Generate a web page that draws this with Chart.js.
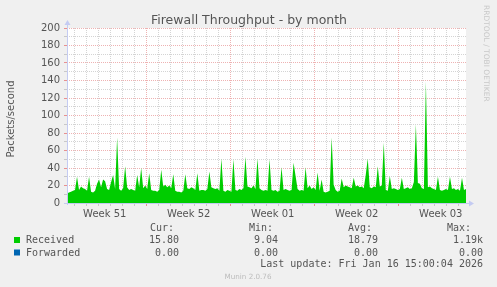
<!DOCTYPE html>
<html><head><meta charset="utf-8">
<script src="https://cdn.jsdelivr.net/npm/chart.js@4.4.1/dist/chart.umd.min.js"></script>
<style>html,body{margin:0;padding:0;background:#f0f0f0;overflow:hidden}canvas{display:block}</style>
</head><body>
<canvas id="c" width="497" height="287"></canvas>
<script>
// ---- data ----
const chartTitle = 'Firewall Throughput - by month';
const yAxisTitle = 'Packets/second';
const watermark = 'RRDTOOL / TOBI OETIKER';
const footer = 'Munin 2.0.76';
const lastUpdate = 'Last update: Fri Jan 16 15:00:04 2026';
const weekLabels = ['Week 51', 'Week 52', 'Week 01', 'Week 02', 'Week 03'];
const yTickLabels = [0, 20, 40, 60, 80, 100, 120, 140, 160, 180, 200];
// time axis in hours since Sun 14 Dec 2025 00:00
const xStartHour = 8.5;
const xEndHour = 806.5;
// Received packets/second, one sample per ~4 h
const received = [
  11,12,13,14,15,30,15,19,17,16, 14,30,13,12,14,22,27,18,27,25,
  16,15,24,32,16,75,16,14,17,42, 18,15,16,15,14,32,18,40,17,20,
  16,34,15,14,14,13,15,38,19,21, 18,20,17,33,14,13,13,12,14,33,
  17,16,18,17,15,34,14,15,15,14, 16,36,18,17,16,17,14,51,14,13,
  15,14,13,50,15,14,16,15,17,53, 19,18,17,20,16,51,17,15,14,15,
  14,50,15,14,15,13,14,41,15,16, 15,14,15,46,31,16,14,15,14,41,
  17,20,16,18,15,35,14,27,13,12, 13,14,75,21,15,13,14,28,18,20,
  19,18,17,29,19,20,18,19,17,32, 51,18,17,19,18,42,19,20,69,15,
  14,31,16,17,16,15,16,29,16,17, 18,16,17,24,90,23,22,17,16,139,
  18,19,17,16,15,30,15,14,15,16, 15,30,16,17,15,16,14,29,15,16
];
const legendNames = ['Received', 'Forwarded'];
const legendColors = ['#00cc00', '#0066b3'];
const statHeaders = ['Cur:', 'Min:', 'Avg:', 'Max:'];
const receivedStats = ['15.80', '9.04', '18.79', '1.19k'];
const forwardedStats = ['0.00', '0.00', '0.00', '0.00 '];

// ---- styling ----
const RED = 'rgba(235,165,165,0.85)';
const GRAY = 'rgba(205,205,205,0.85)';
const AXIS = '#c4cbf2';
const TXT = '#555555';
const SANS = 'DejaVu Sans';
const MONO = 'DejaVu Sans Mono';

const step = (xEndHour - xStartHour) / (received.length - 1);
const points = received.map((v, i) => ({ x: xStartHour + i * step, y: v }));

const weekCenter = k => 84 + 168 * k;

const decor = {
  id: 'decor',
  beforeDraw(chart) {
    const c = chart.ctx, a = chart.chartArea;
    c.save();
    c.fillStyle = '#f0f0f0';
    c.fillRect(0, 0, chart.width, chart.height);
    c.fillStyle = '#ffffff';
    c.fillRect(a.left, a.top, a.right - a.left, a.bottom - a.top);
    c.restore();
  },
  afterDraw(chart) {
    const c = chart.ctx, a = chart.chartArea;
    c.save();
    // axes with arrows
    c.strokeStyle = AXIS; c.fillStyle = AXIS; c.lineWidth = 1;
    c.beginPath();
    c.moveTo(a.left + 0.5, a.bottom + 2); c.lineTo(a.left + 0.5, a.top - 4);
    c.moveTo(a.left - 3, a.bottom + 0.5); c.lineTo(a.right + 4, a.bottom + 0.5);
    c.stroke();
    c.beginPath();
    c.moveTo(a.left - 2.5, a.top - 3); c.lineTo(a.left + 3.5, a.top - 3); c.lineTo(a.left + 0.5, a.top - 8); c.closePath(); c.fill();
    c.beginPath();
    c.moveTo(a.right + 3, a.bottom - 2.5); c.lineTo(a.right + 3, a.bottom + 3.5); c.lineTo(a.right + 8, a.bottom + 0.5); c.closePath(); c.fill();

    // title
    c.fillStyle = TXT;
    c.font = '12.5px "' + SANS + '"';
    c.textAlign = 'center'; c.textBaseline = 'alphabetic';
    c.fillText(chartTitle, 249, 24);

    // y axis title
    c.save();
    c.translate(14, 119);
    c.rotate(-Math.PI / 2);
    c.font = '10px "' + SANS + '"';
    c.textAlign = 'center'; c.textBaseline = 'alphabetic';
    c.fillText(yAxisTitle, 0, 0);
    c.restore();

    // watermark
    c.save();
    c.translate(484, 5);
    c.rotate(Math.PI / 2);
    c.font = '7.5px "' + SANS + '"';
    c.fillStyle = '#c8c8c8';
    c.textAlign = 'left'; c.textBaseline = 'alphabetic';
    c.fillText(watermark, 0, 0);
    c.restore();

    // legend
    c.font = '10px "' + MONO + '"';
    c.fillStyle = TXT;
    const colEnds = [179, 278, 378, 483];
    const headStarts = [150, 249, 348, 447];
    c.textAlign = 'left';
    statHeaders.forEach((h, i) => c.fillText(h, headStarts[i], 231));
    const rowsY = [243, 255.5];
    const rowStats = [receivedStats, forwardedStats];
    legendNames.forEach((n, r) => {
      c.fillStyle = legendColors[r];
      c.fillRect(14, rowsY[r] - 6, 6, 6);
      c.fillStyle = TXT;
      c.textAlign = 'left';
      c.fillText(n, 26, rowsY[r]);
      c.textAlign = 'right';
      rowStats[r].forEach((s, i) => c.fillText(s, colEnds[i] + (s.endsWith(' ') ? 6 : 0), rowsY[r]));
    });
    c.textAlign = 'right';
    c.fillText(lastUpdate, 483, 267);

    c.font = '7.2px "' + SANS + '"';
    c.fillStyle = '#bdbdbd';
    c.textAlign = 'center';
    c.fillText(footer, 248, 279);
    c.restore();
  }
};

new Chart(document.getElementById('c'), {
  type: 'line',
  data: {
    datasets: [{
      label: 'Received',
      data: points,
      parsing: false,
      borderWidth: 0,
      borderColor: '#00cc00',
      backgroundColor: '#00cc00',
      fill: 'origin',
      pointRadius: 0,
      tension: 0
    }]
  },
  options: {
    responsive: false,
    animation: false,
    devicePixelRatio: 1,
    layout: { padding: { top: 28, right: 31, left: 0, bottom: 0 } },
    plugins: { legend: { display: false }, title: { display: false }, tooltip: { enabled: false } },
    scales: {
      x: {
        type: 'linear',
        min: xStartHour,
        max: xEndHour,
        afterBuildTicks: s => {
          const t = [];
          for (let h = 24; h < xEndHour; h += 24) t.push({ value: h });
          weekLabels.forEach((l, k) => t.push({ value: weekCenter(k) }));
          t.sort((p, q) => p.value - q.value);
          s.ticks = t;
        },
        ticks: {
          autoSkip: false, maxRotation: 0, minRotation: 0, padding: 2,
          color: TXT, font: { family: SANS, size: 10 },
          callback: v => {
            const k = (v - 84) / 168;
            return Number.isInteger(k) && weekLabels[k] ? weekLabels[k] : '';
          }
        },
        grid: {
          color: ctx => {
            const v = ctx.tick && ctx.tick.value;
            if (v % 168 === 0) return RED;
            if (v % 24 === 0) return GRAY;
            return 'rgba(0,0,0,0)';
          },
          tickColor: ctx => {
            const v = ctx.tick && ctx.tick.value;
            if (v % 168 === 0) return '#e89090';
            if (v % 24 === 0) return '#c8c8c8';
            return 'rgba(0,0,0,0)';
          },
          tickLength: 3
        },
        border: { display: false, dash: [1, 1] },
        afterFit: s => { s.height = 84; }
      },
      y: {
        min: 0,
        max: 200,
        ticks: {
          stepSize: 10, autoSkip: false, padding: 4,
          color: TXT, font: { family: SANS, size: 10 },
          callback: v => yTickLabels.includes(v) ? String(v) : ''
        },
        grid: {
          color: ctx => {
            const v = ctx.tick && ctx.tick.value;
            if (v === 0) return 'rgba(0,0,0,0)';
            return v % 20 === 0 ? RED : GRAY;
          },
          tickColor: ctx => (ctx.tick && ctx.tick.value % 20 === 0) ? '#e89090' : '#c8c8c8',
          tickLength: 3
        },
        border: { display: false, dash: [1, 1] },
        afterFit: s => { s.width = 67; }
      }
    }
  },
  plugins: [decor]
});
</script>
</body></html>
